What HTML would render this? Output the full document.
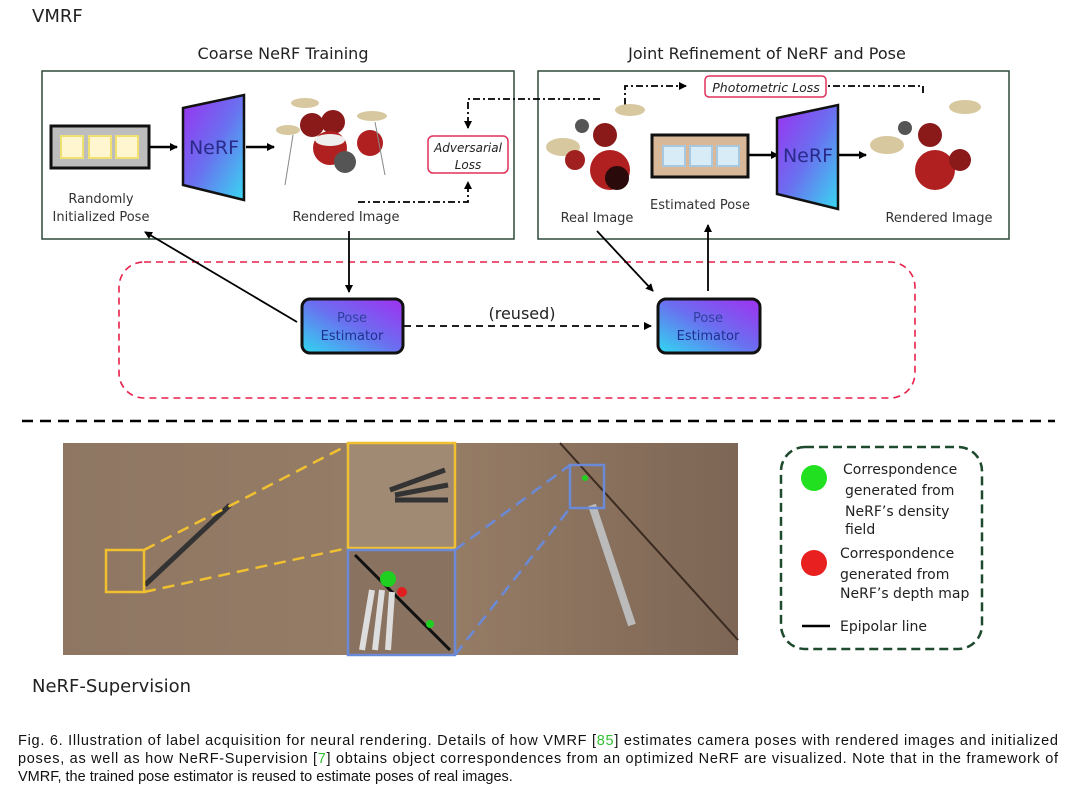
<!DOCTYPE html>
<html><head><meta charset="utf-8"><style>
body{margin:0;background:#fff;width:1080px;height:800px;overflow:hidden}
svg{display:block}
.t{font-family:"DejaVu Sans","Liberation Sans",sans-serif}
.c{font-family:"Liberation Sans",Arial,sans-serif;font-size:14.5px}
</style></head><body>
<svg width="1080" height="800" viewBox="0 0 1080 800" xmlns="http://www.w3.org/2000/svg">
<defs>
<linearGradient id="ng" x1="0" y1="0" x2="1" y2="1"><stop offset="0" stop-color="#9b30f0"/><stop offset="0.5" stop-color="#6a70f0"/><stop offset="1" stop-color="#38d8f0"/></linearGradient>
<linearGradient id="pg" x1="0" y1="1" x2="1" y2="0"><stop offset="0" stop-color="#30d8f0"/><stop offset="0.5" stop-color="#6a70f0"/><stop offset="1" stop-color="#a030f0"/></linearGradient>
<linearGradient id="wood" x1="0" y1="0" x2="1" y2="0"><stop offset="0" stop-color="#8a7360"/><stop offset="0.5" stop-color="#9a8068"/><stop offset="1" stop-color="#7d6655"/></linearGradient>
<marker id="a" markerWidth="8" markerHeight="8" refX="7" refY="4" orient="auto" markerUnits="userSpaceOnUse"><path d="M0,0 L8,4 L0,8z" fill="#000"/></marker>
</defs>
<text x="32" y="22" class="t" font-size="18" fill="#222">VMRF</text>
<text x="283" y="59" class="t" font-size="16" text-anchor="middle" fill="#222">Coarse NeRF Training</text>
<text x="767" y="59" class="t" font-size="16" text-anchor="middle" fill="#222">Joint Refinement of NeRF and Pose</text>
<rect x="42" y="71" width="472" height="168" fill="#fff" stroke="#2e4a3a" stroke-width="1.5"/>
<rect x="538" y="71" width="471" height="168" fill="#fff" stroke="#2e4a3a" stroke-width="1.5"/>
<rect x="119" y="262" width="796" height="136" rx="25" fill="none" stroke="#e8204a" stroke-width="1.6" stroke-dasharray="7,5"/>
<rect x="51" y="126" width="98" height="42" fill="#bdbdbd" stroke="#111" stroke-width="3"/>
<rect x="61" y="136" width="22" height="22" fill="#fff6d0" stroke="#f0e070" stroke-width="2"/>
<rect x="89" y="136" width="22" height="22" fill="#fff6d0" stroke="#f0e070" stroke-width="2"/>
<rect x="116" y="136" width="22" height="22" fill="#fff6d0" stroke="#f0e070" stroke-width="2"/>
<line x1="149" y1="147" x2="177" y2="147" stroke="#000" stroke-width="2.5" marker-end="url(#a)"/>
<polygon points="183,108 244,95 244,200 183,185" fill="url(#ng)" stroke="#111" stroke-width="2.5"/>
<text x="214" y="154" class="t" font-size="19" text-anchor="middle" fill="#2a2a8a">NeRF</text>
<line x1="246" y1="147" x2="274" y2="147" stroke="#000" stroke-width="2.5" marker-end="url(#a)"/>
<g><ellipse cx="305" cy="103" rx="14" ry="5" fill="#d8c8a0"/><ellipse cx="372" cy="116" rx="15" ry="5" fill="#d8c8a0"/><ellipse cx="288" cy="130" rx="12" ry="5" fill="#d8c8a0"/>
<circle cx="312" cy="125" r="12" fill="#8a1a1a"/><circle cx="333" cy="122" r="12" fill="#8a1a1a"/><circle cx="330" cy="148" r="17" fill="#b02020"/><ellipse cx="330" cy="140" rx="15" ry="6" fill="#eee"/><circle cx="370" cy="143" r="13" fill="#b02020"/><circle cx="345" cy="162" r="11" fill="#555"/>
<line x1="293" y1="135" x2="285" y2="185" stroke="#888"/><line x1="375" y1="122" x2="385" y2="175" stroke="#888"/></g>
<text x="346" y="221" class="t" font-size="13" text-anchor="middle" fill="#333">Rendered Image</text>
<text x="101" y="203" class="t" font-size="13" text-anchor="middle" fill="#333">Randomly</text>
<text x="101" y="221" class="t" font-size="13" text-anchor="middle" fill="#333">Initialized Pose</text>
<rect x="428" y="136" width="80" height="37" rx="5" fill="#fff" stroke="#e0305a" stroke-width="1.5"/>
<text x="468" y="152" class="t" font-size="12" font-style="italic" text-anchor="middle" fill="#222">Adversarial</text>
<text x="468" y="169" class="t" font-size="12" font-style="italic" text-anchor="middle" fill="#222">Loss</text>
<path d="M358,202 L468,202 L468,182" fill="none" stroke="#000" stroke-width="1.8" stroke-dasharray="7,3,2,3" marker-end="url(#a)"/>
<path d="M600,99 L468,99 L468,128" fill="none" stroke="#000" stroke-width="1.8" stroke-dasharray="7,3,2,3" marker-end="url(#a)"/>
<path d="M625,105 L625,86 L686,86" fill="none" stroke="#000" stroke-width="1.8" stroke-dasharray="7,3,2,3" marker-end="url(#a)"/>
<path d="M923,93 L923,86 L818,86" fill="none" stroke="#000" stroke-width="1.8" stroke-dasharray="7,3,2,3" marker-end="url(#a)"/>
<rect x="705" y="76" width="121" height="21" rx="4" fill="#fff" stroke="#e0305a" stroke-width="1.5"/>
<text x="766" y="92" class="t" font-size="12.5" font-style="italic" text-anchor="middle" fill="#222">Photometric Loss</text>
<g><ellipse cx="630" cy="110" rx="15" ry="6" fill="#d8c8a0"/><ellipse cx="563" cy="147" rx="17" ry="9" fill="#d8c8a0"/><circle cx="582" cy="126" r="7" fill="#555"/><circle cx="605" cy="135" r="12" fill="#8a1a1a"/><circle cx="610" cy="170" r="20" fill="#b02020"/><circle cx="617" cy="178" r="12" fill="#2a0a0a"/><circle cx="575" cy="160" r="10" fill="#a02020"/></g>
<text x="597" y="222" class="t" font-size="13" text-anchor="middle" fill="#333">Real Image</text>
<rect x="652" y="135" width="96" height="42" fill="#d8b898" stroke="#111" stroke-width="3"/>
<rect x="663" y="146" width="22" height="20" fill="#d8ecf8" stroke="#a8c8e0" stroke-width="2"/>
<rect x="690" y="146" width="22" height="20" fill="#d8ecf8" stroke="#a8c8e0" stroke-width="2"/>
<rect x="717" y="146" width="22" height="20" fill="#d8ecf8" stroke="#a8c8e0" stroke-width="2"/>
<text x="700" y="209" class="t" font-size="13" text-anchor="middle" fill="#333">Estimated Pose</text>
<line x1="749" y1="155" x2="778" y2="155" stroke="#000" stroke-width="2.5" marker-end="url(#a)"/>
<polygon points="777,118 838,105 838,209 777,194" fill="url(#ng)" stroke="#111" stroke-width="2.5"/>
<text x="808" y="162" class="t" font-size="19" text-anchor="middle" fill="#2a2a8a">NeRF</text>
<line x1="839" y1="155" x2="866" y2="155" stroke="#000" stroke-width="2.5" marker-end="url(#a)"/>
<g><ellipse cx="965" cy="107" rx="16" ry="7" fill="#d8c8a0"/><ellipse cx="887" cy="145" rx="17" ry="9" fill="#d8c8a0"/><circle cx="905" cy="128" r="7" fill="#555"/><circle cx="930" cy="135" r="12" fill="#8a1a1a"/><circle cx="935" cy="170" r="20" fill="#b02020"/><circle cx="960" cy="160" r="11" fill="#8a1a1a"/></g>
<text x="939" y="222" class="t" font-size="13" text-anchor="middle" fill="#333">Rendered Image</text>
<line x1="349" y1="231" x2="349" y2="292" stroke="#000" stroke-width="1.8" marker-end="url(#a)"/>
<line x1="297" y1="322" x2="145" y2="232" stroke="#000" stroke-width="1.8" marker-end="url(#a)"/>
<line x1="597" y1="231" x2="653" y2="291" stroke="#000" stroke-width="1.8" marker-end="url(#a)"/>
<line x1="708" y1="291" x2="708" y2="225" stroke="#000" stroke-width="1.8" marker-end="url(#a)"/>
<line x1="404" y1="326" x2="651" y2="326" stroke="#000" stroke-width="1.8" stroke-dasharray="7,5" marker-end="url(#a)"/>
<text x="522" y="319" class="t" font-size="16" text-anchor="middle" fill="#222">(reused)</text>
<rect x="302" y="299" width="101" height="54" rx="8" fill="url(#pg)" stroke="#111" stroke-width="3"/>
<text x="352" y="322" class="t" font-size="13" text-anchor="middle" fill="#3040a0">Pose</text>
<text x="352" y="340" class="t" font-size="13" text-anchor="middle" fill="#203090">Estimator</text>
<rect x="658" y="299" width="102" height="54" rx="8" fill="url(#pg)" stroke="#111" stroke-width="3"/>
<text x="708" y="322" class="t" font-size="13" text-anchor="middle" fill="#3040a0">Pose</text>
<text x="708" y="340" class="t" font-size="13" text-anchor="middle" fill="#203090">Estimator</text>
<line x1="22" y1="421" x2="1055" y2="421" stroke="#000" stroke-width="2.5" stroke-dasharray="11,7"/>
<rect x="63" y="443" width="675" height="212" fill="url(#wood)"/>
<rect x="63" y="443" width="285" height="212" fill="#927a66" opacity="0.5"/>
<line x1="230" y1="505" x2="145" y2="585" stroke="#333" stroke-width="5"/>
<line x1="560" y1="443" x2="738" y2="640" stroke="#3a2a20" stroke-width="2"/>
<line x1="592" y1="505" x2="632" y2="625" stroke="#bbb" stroke-width="8"/>
<rect x="106" y="550" width="38" height="42" fill="none" stroke="#f0c030" stroke-width="2.5"/>
<line x1="144" y1="550" x2="348" y2="445" stroke="#f0c030" stroke-width="2.5" stroke-dasharray="12,7"/>
<line x1="144" y1="592" x2="348" y2="548" stroke="#f0c030" stroke-width="2.5" stroke-dasharray="12,7"/>
<rect x="348" y="443" width="107" height="105" fill="#a08a74" stroke="#f0c030" stroke-width="2.5"/>
<path d="M390,490 L445,470 M395,495 L448,485 M395,500 L448,500" stroke="#333" stroke-width="5"/>
<rect x="348" y="550" width="107" height="105" fill="#8a7260" stroke="#6a8ad8" stroke-width="2.5"/>
<line x1="355" y1="555" x2="450" y2="650" stroke="#111" stroke-width="3"/>
<path d="M362,650 L372,590 M375,650 L382,590 M388,650 L392,592" stroke="#ddd" stroke-width="6"/>
<circle cx="388" cy="579" r="8" fill="#20d020"/><circle cx="402" cy="592" r="5" fill="#e02020"/><circle cx="430" cy="624" r="4" fill="#20d020"/>
<rect x="570" y="465" width="34" height="43" fill="none" stroke="#6a8ad8" stroke-width="2.5"/>
<line x1="455" y1="550" x2="570" y2="465" stroke="#6a8ad8" stroke-width="2.5" stroke-dasharray="12,7"/>
<line x1="455" y1="655" x2="570" y2="508" stroke="#6a8ad8" stroke-width="2.5" stroke-dasharray="12,7"/>
<circle cx="585" cy="478" r="3" fill="#20d020"/>
<rect x="781" y="447" width="201" height="202" rx="24" fill="#fff" stroke="#1e4a2e" stroke-width="2.5" stroke-dasharray="9,5"/>
<circle cx="814" cy="478" r="13" fill="#20e020"/>
<text class="t" font-size="14" fill="#222"><tspan x="843" y="474">Correspondence</tspan><tspan x="845" y="495">generated from</tspan><tspan x="845" y="516">NeRF’s density</tspan><tspan x="845" y="534">field</tspan></text>
<circle cx="814" cy="563" r="13" fill="#e82020"/>
<text class="t" font-size="14" fill="#222"><tspan x="840" y="558">Correspondence</tspan><tspan x="840" y="579">generated from</tspan><tspan x="840" y="598">NeRF’s depth map</tspan></text>
<line x1="802" y1="626" x2="830" y2="626" stroke="#000" stroke-width="2.5"/>
<text x="840" y="631" class="t" font-size="14" fill="#222">Epipolar line</text>
<text x="32" y="692" class="t" font-size="18" fill="#222">NeRF-Supervision</text>
<text x="18" y="745" class="c" fill="#111" textLength="1040" lengthAdjust="spacing">Fig. 6. Illustration of label acquisition for neural rendering. Details of how VMRF [<tspan fill="#30c030">85</tspan>] estimates camera poses with rendered images and initialized</text>
<text x="18" y="763" class="c" fill="#111" textLength="1040" lengthAdjust="spacing">poses, as well as how NeRF-Supervision [<tspan fill="#30c030">7</tspan>] obtains object correspondences from an optimized NeRF are visualized. Note that in the framework of</text>
<text x="18" y="781" class="c" fill="#111">VMRF, the trained pose estimator is reused to estimate poses of real images.</text>
</svg>
</body></html>
